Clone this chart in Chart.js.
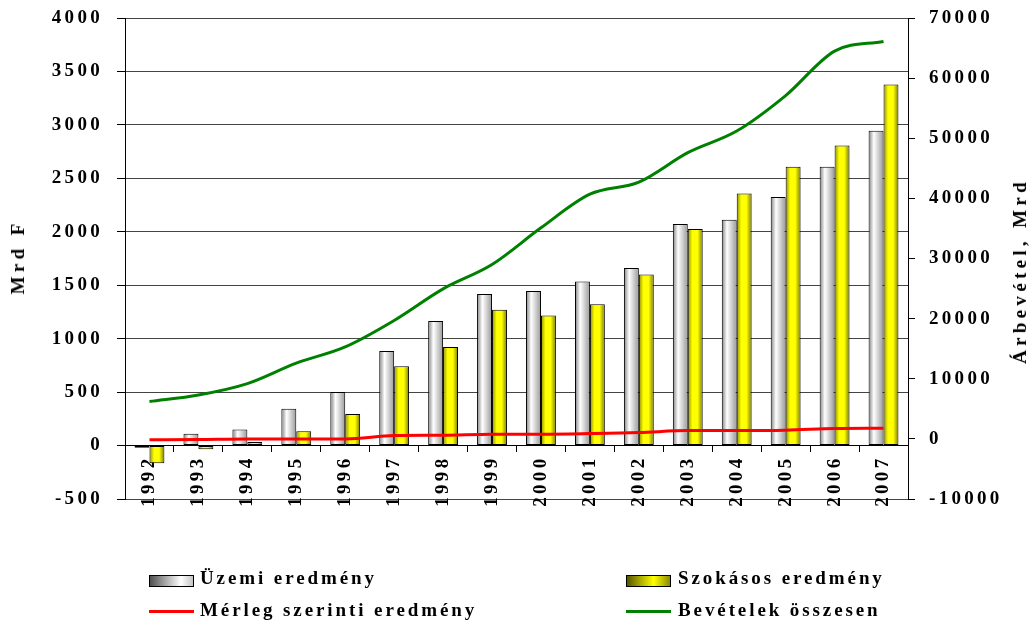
<!DOCTYPE html>
<html>
<head>
<meta charset="utf-8">
<script src="https://cdn.jsdelivr.net/npm/chart.js@4/dist/chart.umd.min.js"></script>
<style>
  body { margin: 0; background: #fff; }
  #wrap { position: relative; width: 1036px; height: 622px; overflow: hidden; font-family: 'Liberation Serif', serif; font-weight: bold; color: #000; }
  #wrap canvas { position: absolute; left: 0; top: 0; }
  .title { position: absolute; font-size: 19px; letter-spacing: 4.3px; white-space: nowrap; transform: translate(-50%, -50%) rotate(-90deg); }
  .leg { position: absolute; font-size: 19px; letter-spacing: 2.9px; white-space: nowrap; line-height: 20px; }
  .sw { position: absolute; width: 43px; height: 10px; border: 1px solid #000; }
  .ln { position: absolute; width: 45px; height: 3px; }
</style>
</head>
<body>
<div id="wrap">
  <canvas id="grafico" width="1036" height="622"></canvas>
  <div class="title" style="left:18px; top:257px;">Mrd F</div>
  <div class="title" style="left:1020px; top:271px;">Árbevétel, Mrd</div>

  <div class="sw" style="left:149px; top:575px; background: linear-gradient(to right, #505050, #ffffff 72%, #c4c4c4);"></div>
  <div class="leg" style="left:200px; top:568px;">Üzemi eredmény</div>
  <div class="sw" style="left:626px; top:575px; background: linear-gradient(to right, #555500, #ffff00 62%, #8a8a00);"></div>
  <div class="leg" style="left:678px; top:568px;">Szokásos eredmény</div>

  <div class="ln" style="left:149px; top:610px; background:#ff0000;"></div>
  <div class="leg" style="left:200px; top:600px;">Mérleg szerinti eredmény</div>
  <div class="ln" style="left:626px; top:610px; background:#008000;"></div>
  <div class="leg" style="left:678px; top:600px;">Bevételek összesen</div>
</div>
<script>
// --- adatok ---
const evek = ['1992', '1993', '1994', '1995', '1996', '1997', '1998', '1999',
              '2000', '2001', '2002', '2003', '2004', '2005', '2006', '2007'];
// Mrd F (bal tengely)
const uzemiEredmeny = [-20, 110, 150, 345, 500, 885, 1165, 1418, 1445, 1535, 1660, 2072, 2112, 2325, 2608, 2946];
const szokasosEredmeny = [-166, -35, 34, 134, 296, 742, 923, 1270, 1216, 1323, 1600, 2025, 2358, 2608, 2808, 3379];
// Árbevétel, Mrd (jobb tengely)
const merlegEredmeny = [-150, -100, 0, 0, 0, 550, 610, 780, 780, 880, 1050, 1380, 1380, 1450, 1720, 1780];
const bevetelekOsszesen = [6200, 7300, 9200, 12600, 15300, 19700, 24950, 29000,
                           35100, 40700, 42700, 47600, 51200, 57100, 64500, 66100];
const balTengely = { min: -500, max: 4000, lepes: 500 };
const jobbTengely = { min: -10000, max: 70000, lepes: 10000 };

const CAT_PCT = 0.61;
const betu = { family: 'Liberation Serif', size: 19, weight: 'bold' };

// gradiens oszlopokhoz (oldal: -1 bal oszlop, +1 jobb oszlop)
function oszlopSzin(stops, oldal) {
    return function(c) {
        const xs = c.chart.scales.x;
        if (!xs || c.dataIndex === undefined || !xs.width) return stops[1][1];
        const cx = xs.getPixelForValue(c.dataIndex);
        const w = xs.width / evek.length * CAT_PCT / 2;
        const x0 = oldal < 0 ? cx - w : cx;
        const g = c.chart.ctx.createLinearGradient(x0, 0, x0 + w, 0);
        stops.forEach(s => g.addColorStop(s[0], s[1]));
        return g;
    };
}

// függőleges tengelyek: fix szélesség, nincs extra belső margó
function tengelyMeret(szelesseg) {
    return function(s) {
        s.width = szelesseg;
        s.paddingTop = 0;
        s.paddingBottom = 0;
    };
}

// betűköz a canvas szövegekhez
const betukoz = {
    id: 'betukoz',
    beforeLayout(chart) { chart.ctx.letterSpacing = '3.3px'; },
    beforeDraw(chart) { chart.ctx.letterSpacing = '3.3px'; }
};

new Chart(document.getElementById('grafico'), {
    data: {
        labels: evek,
        datasets: [
            {
                type: 'bar',
                label: 'Üzemi eredmény',
                data: uzemiEredmeny,
                yAxisID: 'y',
                order: 1,
                backgroundColor: oszlopSzin([[0, '#808080'], [0.35, '#ffffff'], [1, '#999999']], -1),
                borderColor: '#000',
                borderWidth: 1,
                borderSkipped: false,
                categoryPercentage: CAT_PCT,
                barPercentage: 1
            },
            {
                type: 'bar',
                label: 'Szokásos eredmény',
                data: szokasosEredmeny,
                yAxisID: 'y',
                order: 1,
                backgroundColor: oszlopSzin([[0, '#8c8c00'], [0.3, '#ffff00'], [0.65, '#ffff00'], [1, '#7a7a00']], 1),
                borderColor: '#000',
                borderWidth: 1,
                borderSkipped: false,
                categoryPercentage: CAT_PCT,
                barPercentage: 1
            },
            {
                type: 'line',
                label: 'Mérleg szerinti eredmény',
                data: merlegEredmeny,
                yAxisID: 'y1',
                order: 0,
                borderColor: '#ff0000',
                borderWidth: 3,
                pointRadius: 0,
                cubicInterpolationMode: 'monotone',
                fill: false
            },
            {
                type: 'line',
                label: 'Bevételek összesen',
                data: bevetelekOsszesen,
                yAxisID: 'y1',
                order: 0,
                borderColor: '#008000',
                borderWidth: 3,
                pointRadius: 0,
                cubicInterpolationMode: 'monotone',
                fill: false
            }
        ]
    },
    options: {
        responsive: false,
        animation: false,
        layout: { padding: { top: 18, bottom: 123, left: 0, right: 0 } },
        plugins: {
            legend: { display: false },
            tooltip: { enabled: false }
        },
        scales: {
            x: {
                type: 'category',
                position: { y: 0 },
                offset: true,
                afterFit: s => { s.paddingTop = 0; s.paddingBottom = 0; s.paddingLeft = 0; s.paddingRight = 0; },
                grid: { display: true, drawOnChartArea: false, drawTicks: true, tickLength: 6, color: '#000', offset: true },
                border: { display: true, color: '#000', width: 1 },
                ticks: { minRotation: 90, maxRotation: 90, autoSkip: false, padding: 4, color: '#000', font: betu }
            },
            y: {
                position: 'left',
                min: balTengely.min,
                max: balTengely.max,
                afterFit: tengelyMeret(125),
                grid: { color: '#444', tickLength: 8, tickColor: '#000' },
                border: { display: true, color: '#000', width: 1 },
                ticks: { stepSize: balTengely.lepes, padding: 14, color: '#000', font: betu, callback: v => String(v) }
            },
            y1: {
                position: 'right',
                min: jobbTengely.min,
                max: jobbTengely.max,
                afterFit: tengelyMeret(128),
                grid: { drawOnChartArea: false, tickLength: 7, color: '#000' },
                border: { display: true, color: '#000', width: 1 },
                ticks: { stepSize: jobbTengely.lepes, padding: 14, color: '#000', font: betu, callback: v => String(v) }
            }
        }
    },
    plugins: [betukoz]
});
</script>
</body>
</html>
